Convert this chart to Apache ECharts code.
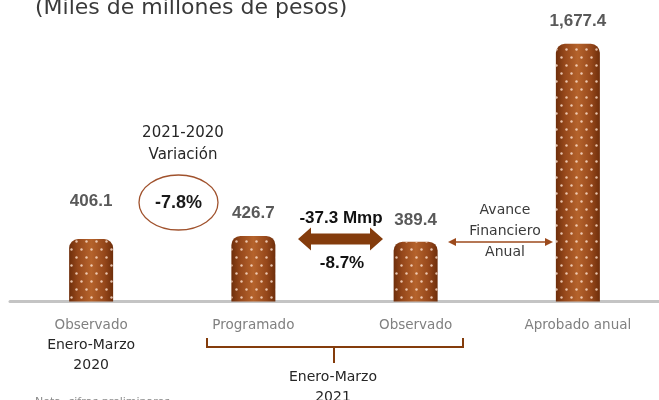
<!DOCTYPE html>
<html>
<head>
<meta charset="utf-8">
<script src="https://cdn.jsdelivr.net/npm/echarts@6/dist/echarts.min.js"></script>
<style>
  html, body { margin: 0; padding: 0; background: #fff; }
  #chart { width: 659px; height: 400px; }
</style>
</head>
<body>
<div id="chart"></div>
<script>
// datos (miles de millones de pesos)
const categories = ['Observado', 'Programado', 'Observado', 'Aprobado anual']
const values = [406.1, 426.7, 389.4, 1677.4]
const valueLabels = ['406.1', '426.7', '389.4', '1,677.4']
const firstPeriod = ['Enero-Marzo', '2020']
const secondPeriod = ['Enero-Marzo', '2021']
const variationTitle = ['2021-2020', 'Variación']
const variationPct = '-7.8%'
const diffMmp = '-37.3 Mmp'
const diffPct = '-8.7%'
const avanceText = ['Avance', 'Financiero', 'Anual']

// distancia de cada etiqueta sobre su barra
const labelLift = [29, 14, 13, 14]

const gothic = "'DejaVu Sans', sans-serif"
const narrow = "'Liberation Sans Narrow', 'Arial Narrow', 'Liberation Sans', sans-serif"
const brown = '#843c0c'

const chart = echarts.init(document.getElementById('chart'))

const barColor = new echarts.graphic.LinearGradient(0, 0, 1, 0, [
  { offset: 0, color: '#6e2e0b' },
  { offset: 0.2, color: '#96481b' },
  { offset: 0.5, color: '#b5632c' },
  { offset: 0.8, color: '#96481b' },
  { offset: 1, color: '#6e2e0b' }
])

chart.setOption({
  animation: false,
  grid: { left: 10, right: -6, top: 25, bottom: 98.5 },
  xAxis: {
    type: 'category',
    data: categories,
    axisTick: { show: false },
    axisLine: { lineStyle: { color: '#c4c4c4', width: 3 } },
    axisLabel: {
      margin: 14,
      interval: 0,
      formatter: (v, i) => {
        if (i === 0) {
          return '{a|' + v + '}\n{b|' + firstPeriod[0] + '}\n{b|' + firstPeriod[1] + '}'
        }
        return '{a|' + v + '}'
      },
      rich: {
        a: { fontFamily: gothic, fontSize: 13.5, color: '#808080', lineHeight: 20 },
        b: { fontFamily: gothic, fontSize: 14, color: '#262626', lineHeight: 20 }
      }
    }
  },
  yAxis: { type: 'value', min: 0, max: 1800, show: false, splitLine: { show: false } },
  series: [
    {
      type: 'bar',
      barWidth: 44,
      data: values.map((v, i) => ({
        value: v,
        label: { distance: labelLift[i], formatter: valueLabels[i] }
      })),
      itemStyle: {
        color: barColor,
        borderRadius: [9, 9, 0, 0],
        decal: {
          symbol: 'circle',
          symbolSize: 0.8,
          color: 'rgba(255, 228, 210, 0.8)',
          dashArrayX: [[3, 7], [0, 5, 3, 2]],
          dashArrayY: [3, 5],
          rotation: 0
        }
      },
      label: {
        show: true,
        position: 'top',
        fontFamily: narrow,
        fontWeight: 'bold',
        fontSize: 17,
        color: '#595959'
      }
    }
  ],
  graphic: [
    {
      type: 'text', left: 35, top: -3, silent: true,
      style: { text: '(Miles de millones de pesos)', font: '22px ' + gothic, fill: '#3a3a3a' }
    },
    {
      type: 'text', x: 183, y: 133, silent: true,
      style: { text: variationTitle[0], font: '15px ' + gothic, fill: '#262626', align: 'center', verticalAlign: 'middle' }
    },
    {
      type: 'text', x: 183, y: 155, silent: true,
      style: { text: variationTitle[1], font: '15px ' + gothic, fill: '#262626', align: 'center', verticalAlign: 'middle' }
    },
    {
      type: 'ellipse', silent: true,
      shape: { cx: 178.5, cy: 202.5, rx: 39.5, ry: 27.5 },
      style: { fill: 'none', stroke: '#a0522d', lineWidth: 1.3 }
    },
    {
      type: 'text', x: 178.5, y: 203, silent: true,
      style: { text: variationPct, font: 'bold 18px ' + narrow, fill: '#1a1a1a', align: 'center', verticalAlign: 'middle' }
    },
    {
      type: 'polygon', silent: true,
      shape: {
        points: [[298, 239], [311, 227.5], [311, 233.5], [370, 233.5], [370, 227.5], [383, 239],
          [370, 250.5], [370, 244.5], [311, 244.5], [311, 250.5]]
      },
      style: { fill: brown }
    },
    {
      type: 'text', x: 341, y: 218, silent: true,
      style: { text: diffMmp, font: 'bold 17px ' + narrow, fill: '#111', align: 'center', verticalAlign: 'middle' }
    },
    {
      type: 'text', x: 342, y: 263, silent: true,
      style: { text: diffPct, font: 'bold 17px ' + narrow, fill: '#111', align: 'center', verticalAlign: 'middle' }
    },
    {
      type: 'line', silent: true,
      shape: { x1: 454, y1: 242, x2: 547, y2: 242 },
      style: { stroke: '#9c4a1c', lineWidth: 1.3 }
    },
    {
      type: 'polygon', silent: true,
      shape: { points: [[448, 242], [456, 238], [456, 246]] },
      style: { fill: '#9c4a1c' }
    },
    {
      type: 'polygon', silent: true,
      shape: { points: [[553, 242], [545, 238], [545, 246]] },
      style: { fill: '#9c4a1c' }
    },
    {
      type: 'text', x: 505, y: 210, silent: true,
      style: { text: avanceText[0], font: '14px ' + gothic, fill: '#3a3a3a', align: 'center', verticalAlign: 'middle' }
    },
    {
      type: 'text', x: 505, y: 231, silent: true,
      style: { text: avanceText[1], font: '14px ' + gothic, fill: '#3a3a3a', align: 'center', verticalAlign: 'middle' }
    },
    {
      type: 'text', x: 505, y: 252, silent: true,
      style: { text: avanceText[2], font: '14px ' + gothic, fill: '#3a3a3a', align: 'center', verticalAlign: 'middle' }
    },
    {
      type: 'polyline', silent: true,
      shape: { points: [[207, 338], [207, 347], [463, 347], [463, 338]] },
      style: { stroke: brown, lineWidth: 2, fill: 'none' }
    },
    {
      type: 'line', silent: true,
      shape: { x1: 334, y1: 347, x2: 334, y2: 363 },
      style: { stroke: brown, lineWidth: 2 }
    },
    {
      type: 'text', x: 333, y: 377, silent: true,
      style: { text: secondPeriod[0], font: '14px ' + gothic, fill: '#262626', align: 'center', verticalAlign: 'middle' }
    },
    {
      type: 'text', x: 333, y: 397, silent: true,
      style: { text: secondPeriod[1], font: '14px ' + gothic, fill: '#262626', align: 'center', verticalAlign: 'middle' }
    },
    {
      type: 'text', x: 35, y: 397, silent: true,
      style: { text: 'Nota: cifras preliminares', font: '11px ' + gothic, fill: '#8c8c8c' }
    }
  ]
})
</script>
</body>
</html>
